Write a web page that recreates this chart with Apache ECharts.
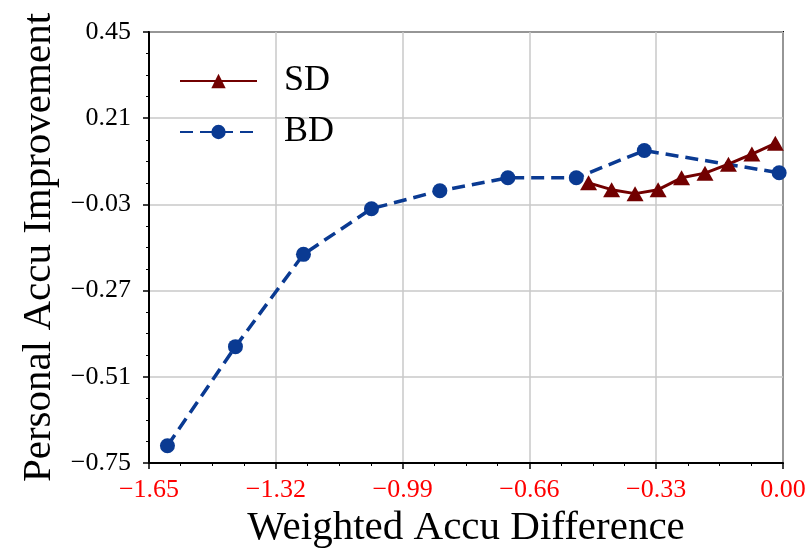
<!DOCTYPE html>
<html>
<head>
<meta charset="utf-8">
<script src="https://cdn.jsdelivr.net/npm/echarts@6/dist/echarts.min.js"></script>
<style>html,body{margin:0;padding:0;background:#fff;overflow:hidden}#c{width:810px;height:554px}</style>
</head>
<body>
<div id="c"></div>
<script>
const sdX = [-0.506, -0.446, -0.385, -0.325, -0.264, -0.203, -0.142, -0.081, -0.020];
const sdY = [0.030, 0.011, 0.000, 0.011, 0.044, 0.057, 0.082, 0.110, 0.140];
const bdX = [-1.602, -1.425, -1.248, -1.071, -0.893, -0.716, -0.538, -0.361, -0.010];
const bdY = [-0.702, -0.426, -0.169, -0.042, 0.008, 0.044, 0.044, 0.120, 0.058];
const xTicks = [-1.65, -1.32, -0.99, -0.66, -0.33, 0.00];
const yTicks = [-0.75, -0.51, -0.27, -0.03, 0.21, 0.45];

const FONT = 'Liberation Serif';
const fmt = v => (Math.abs(v) < 1e-9 ? 0 : v).toFixed(2).replace('-', '\u2212');
const pairs = (xs, ys) => xs.map((x, i) => [x, ys[i]]);

const chart = echarts.init(document.getElementById('c'), null, {renderer: 'canvas', width: 810, height: 554});
chart.setOption({
  animation: false,
  backgroundColor: '#fff',
  grid: {left: 149, width: 634, top: 32, height: 437, show: true, borderColor: '#000', borderWidth: 2, backgroundColor: 'transparent'},
  legend: {
    orient: 'vertical', left: 174, top: 56,
    data: ['SD', 'BD'],
    itemWidth: 77, itemHeight: 18, itemGap: 11,
    textStyle: {fontFamily: FONT, fontSize: 36, color: '#000', padding: [0, 0, 0, 22], lineHeight: 40}
  },
  xAxis: {
    type: 'value', min: xTicks[0], max: xTicks[xTicks.length - 1], interval: 0.33,
    name: 'Weighted Accu Difference', nameLocation: 'middle', nameGap: 45,
    nameTextStyle: {fontFamily: FONT, fontSize: 41, color: '#000'},
    axisLine: {onZero: false, lineStyle: {color: '#000', width: 2}},
    axisTick: {show: true, length: 6, lineStyle: {color: '#000', width: 1.5}},
    minorTick: {show: true, splitNumber: 4, length: 3, lineStyle: {color: '#000', width: 1}},
    axisLabel: {fontFamily: FONT, fontSize: 26, color: '#ff0000', margin: 14, formatter: fmt},
    splitLine: {show: true, lineStyle: {color: '#c8c8c8', width: 1.5}}
  },
  yAxis: {
    type: 'value', min: yTicks[0], max: yTicks[yTicks.length - 1], interval: 0.24, startValue: yTicks[0],
    name: 'Personal Accu Improvement', nameLocation: 'middle', nameGap: 88,
    nameTextStyle: {fontFamily: FONT, fontSize: 41, color: '#000'},
    axisLine: {onZero: false, lineStyle: {color: '#000', width: 2}},
    axisTick: {show: true, length: 6, lineStyle: {color: '#000', width: 1.5}},
    minorTick: {show: true, splitNumber: 4, length: 3, lineStyle: {color: '#000', width: 1}},
    axisLabel: {fontFamily: FONT, fontSize: 26, color: '#000', margin: 18, formatter: fmt},
    splitLine: {show: true, lineStyle: {color: '#c8c8c8', width: 1.5}}
  },
  series: [
    {
      name: 'SD', type: 'line', data: pairs(sdX, sdY),
      symbol: 'triangle', symbolSize: [17, 15],
      lineStyle: {color: '#720000', width: 3},
      itemStyle: {color: '#720000'}
    },
    {
      name: 'BD', type: 'line', data: pairs(bdX, bdY),
      symbol: 'circle', symbolSize: 15,
      lineStyle: {color: '#0a3a92', width: 3.5, type: [13, 7]},
      itemStyle: {color: '#0a3a92'}
    }
  ]
});
</script>
</body>
</html>
